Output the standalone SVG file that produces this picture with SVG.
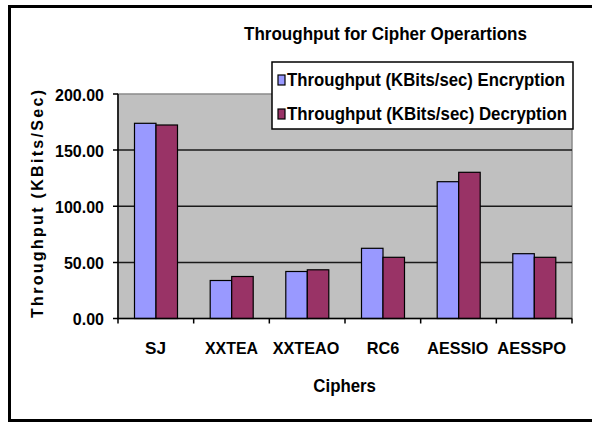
<svg xmlns="http://www.w3.org/2000/svg" width="592" height="424" viewBox="0 0 592 424">
<style>
.t{font-family:"Liberation Sans",Arial,sans-serif;font-weight:bold;fill:#000}
.enc{fill:#9999ff;stroke:#000;stroke-width:1.2}
.dec{fill:#993366;stroke:#000;stroke-width:1.2}
.grid{stroke:#1a1a1a;stroke-width:1.5}
.ax{stroke:#000;stroke-width:1.5;fill:none}
</style>
<rect width="592" height="424" fill="#fff"/>
<rect id="frame" x="9.5" y="6.5" width="600" height="414" fill="#fff" stroke="#000" stroke-width="3"/>
<text id="title" class="t" x="244" y="40" font-size="19" textLength="283" lengthAdjust="spacingAndGlyphs">Throughput for Cipher Operartions</text>
<g id="plot">
<rect x="118" y="94" width="454" height="224.5" fill="#c0c0c0" stroke="#8a8a8a" stroke-width="1.5"/>
<line class="grid" x1="118" y1="150.1" x2="572" y2="150.1"/>
<line class="grid" x1="118" y1="206.25" x2="572" y2="206.25"/>
<line class="grid" x1="118" y1="262.4" x2="572" y2="262.4"/>
</g>
<g id="bars">
<g id="SJ"><rect class="enc" x="134.5" y="123.3" width="21.5" height="195.2"/><rect class="dec" x="156" y="125" width="21.5" height="193.5"/></g>
<g id="XXTEA"><rect class="enc" x="210.2" y="280.5" width="21.5" height="38"/><rect class="dec" x="231.7" y="276.5" width="21.5" height="42"/></g>
<g id="XXTEAO"><rect class="enc" x="285.8" y="271.5" width="21.5" height="47"/><rect class="dec" x="307.3" y="269.8" width="21.5" height="48.7"/></g>
<g id="RC6"><rect class="enc" x="361.5" y="248.3" width="21.5" height="70.2"/><rect class="dec" x="383" y="257.3" width="21.5" height="61.2"/></g>
<g id="AESSIO"><rect class="enc" x="437.2" y="181.7" width="21.5" height="136.8"/><rect class="dec" x="458.7" y="172.3" width="21.5" height="146.2"/></g>
<g id="AESSPO"><rect class="enc" x="512.8" y="253.7" width="21.5" height="64.8"/><rect class="dec" x="534.3" y="257.3" width="21.5" height="61.2"/></g>
</g>
<g id="axes">
<path class="ax" d="M118 94V318.5H572"/>
<path class="ax" d="M113 94H118M113 150.1H118M113 206.25H118M113 262.4H118M113 318.5H118"/>
<path class="ax" d="M118 318.5V323.5M193.67 318.5V323.5M269.33 318.5V323.5M345 318.5V323.5M420.67 318.5V323.5M496.33 318.5V323.5M572 318.5V323.5"/>
</g>
<g id="ylabels" class="t" font-size="16" text-anchor="end">
<text x="104" y="100.5">200.00</text>
<text x="104" y="156.5">150.00</text>
<text x="104" y="212.5">100.00</text>
<text x="104" y="268.5">50.00</text>
<text x="104" y="324.5">0.00</text>
</g>
<text id="ytitle" class="t" font-size="16" transform="translate(43 318) rotate(-90)" textLength="228" lengthAdjust="spacing">Throughput (KBits/Sec)</text>
<g id="xlabels" class="t" font-size="17">
<text x="145" y="354" textLength="21" lengthAdjust="spacingAndGlyphs">SJ</text>
<text x="205" y="354" textLength="53" lengthAdjust="spacingAndGlyphs">XXTEA</text>
<text x="272.7" y="354" textLength="66.6" lengthAdjust="spacingAndGlyphs">XXTEAO</text>
<text x="366.7" y="354" textLength="32.6" lengthAdjust="spacingAndGlyphs">RC6</text>
<text x="427.3" y="354" textLength="61" lengthAdjust="spacingAndGlyphs">AESSIO</text>
<text x="497.3" y="354" textLength="68.7" lengthAdjust="spacingAndGlyphs">AESSPO</text>
</g>
<text id="xtitle" class="t" font-size="19" x="313.3" y="391.5" textLength="62.7" lengthAdjust="spacingAndGlyphs">Ciphers</text>
<g id="legend">
<rect x="272" y="62" width="301" height="67" fill="#fff" stroke="#000" stroke-width="1.5"/>
<rect class="enc" x="278" y="75" width="7" height="10"/>
<text class="t" font-size="18" x="287" y="86" textLength="278" lengthAdjust="spacingAndGlyphs">Throughput (KBits/sec) Encryption</text>
<rect class="dec" x="278" y="109" width="7" height="10"/>
<text class="t" font-size="18" x="287" y="120" textLength="280" lengthAdjust="spacingAndGlyphs">Throughput (KBits/sec) Decryption</text>
</g>
</svg>
